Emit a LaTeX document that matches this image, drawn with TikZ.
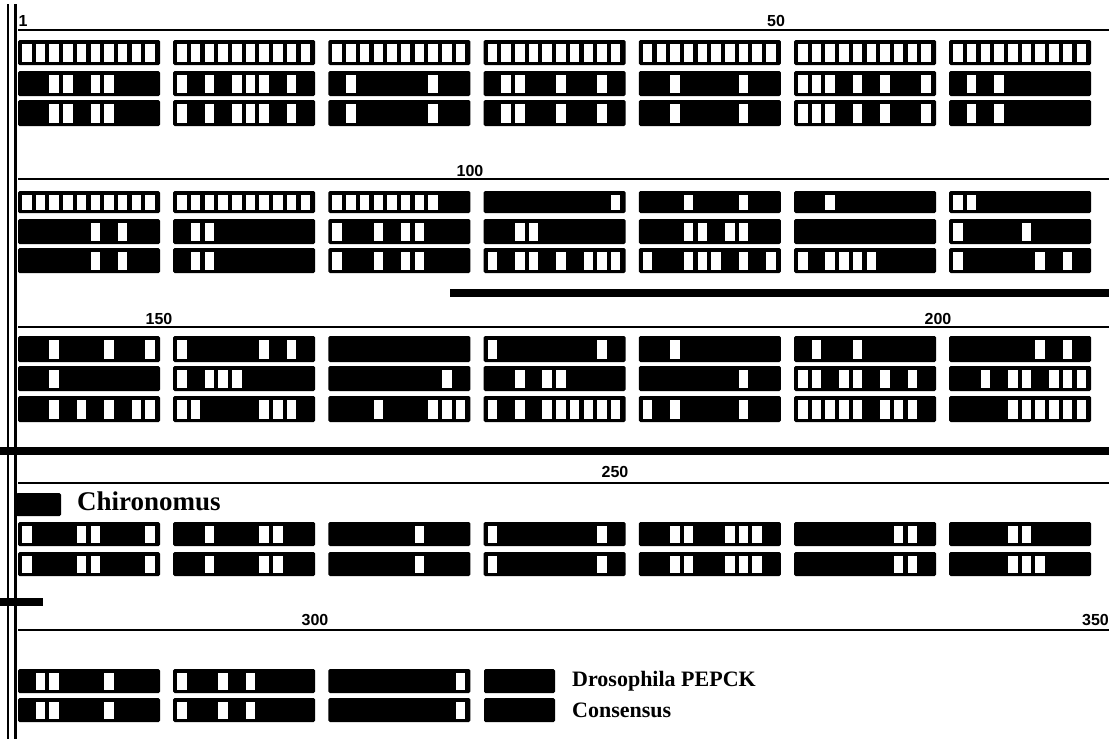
\documentclass[tikz,border=0pt]{standalone}
\usepackage{fontspec}
\setmainfont{Liberation Serif}
\newfontfamily\numfont{Liberation Sans}

% one row of seven blocks; #3 lists the white columns of each block (-1: none)
\newcommand{\alnrow}[3]{%
  \foreach \bars [count=\b from 0] in {#3} {
    \pgfmathsetmacro{\xa}{18+155.2*\b}
    \fill[block] (\xa,#1) rectangle ++(142,#2);
    \foreach \k in \bars {
      \ifnum\k>-1
        \fill[white] ({\xa+4+13.7*\k},{#1+3.5}) rectangle ++(9.5,#2-7);
      \fi
    }
  }}

\begin{document}
\begin{tikzpicture}[x=1pt, y=-1pt,
    block/.style={fill=black, rounded corners=1.5pt},
    rule/.style={line width=2pt},
    num/.style={font=\numfont\bfseries\fontsize{16}{16}\selectfont, inner sep=0pt},
    species/.style={font=\bfseries\fontsize{22}{22}\selectfont, inner sep=0pt, anchor=west}]
    \useasboundingbox (0,0) rectangle (1109,739);

    \draw[line width=2.5pt] (8,4) -- (8,739);
    \draw[line width=3pt] (15,4) -- (15,739);

    % 1 - 50
    \node[num] (n1) at (23,21) {1};
    \node[num] (n50) at (776,21) {50};
    \draw[rule] (18,30) -- (1109,30);
    \alnrow{40}{25}{{0,1,2,3,4,5,6,7,8,9},{0,1,2,3,4,5,6,7,8,9},{0,1,2,3,4,5,6,7,8,9},{0,1,2,3,4,5,6,7,8,9},{0,1,2,3,4,5,6,7,8,9},{0,1,2,3,4,5,6,7,8,9},{0,1,2,3,4,5,6,7,8,9}}
    \alnrow{71}{25}{{2,3,5,6},{0,2,4,5,6,8},{1,7},{1,2,5,8},{2,7},{0,1,2,4,6,9},{1,3}}
    \alnrow{100}{26}{{2,3,5,6},{0,2,4,5,6,8},{1,7},{1,2,5,8},{2,7},{0,1,2,4,6,9},{1,3}}

    % 51 - 100
    \node[num] (n100) at (470,171) {100};
    \draw[rule] (18,179) -- (1109,179);
    \alnrow{191}{22}{{0,1,2,3,4,5,6,7,8,9},{0,1,2,3,4,5,6,7,8,9},{0,1,2,3,4,5,6,7},{9},{3,7},{2},{0,1}}
    \alnrow{219}{25}{{5,7},{1,2},{0,3,5,6},{2,3},{3,4,6,7},{-1},{0,5}}
    \alnrow{248}{25}{{5,7},{1,2},{0,3,5,6},{0,2,3,5,7,8,9},{0,3,4,5,7,9},{0,2,3,4,5},{0,6,8}}
    \fill (450,289) rectangle (1109,297);

    % 101 - 200
    \node[num] (n150) at (159,319) {150};
    \node[num] (n200) at (938,319) {200};
    \draw[rule] (18,327) -- (1109,327);
    \alnrow{336}{26}{{2,6,9},{0,6,8},{-1},{0,8},{2},{1,4},{6,8}}
    \alnrow{366}{25}{{2},{0,2,3,4},{8},{2,4,5},{7},{0,1,3,4,6,8},{2,4,5,7,8,9}}
    \alnrow{396}{26}{{2,4,6,8,9},{0,1,6,7,8},{3,7,8,9},{0,2,4,5,6,7,8,9},{0,2,7},{0,1,2,3,4,6,7,8},{4,5,6,7,8,9}}
    \fill (0,447) rectangle (1109,455);

    % 201 - 250
    \node[num] (n250) at (615,472) {250};
    \draw[rule] (18,483) -- (1109,483);
    \fill[block] (16,493) rectangle (61,516);
    \node[species, font=\bfseries\fontsize{27}{27}\selectfont] (chir) at (77,501) {Chironomus};
    \alnrow{522}{24}{{0,4,5,9},{2,6,7},{6},{0,8},{2,3,6,7,8},{7,8},{4,5}}
    \alnrow{552}{24}{{0,4,5,9},{2,6,7},{6},{0,8},{2,3,6,7,8},{7,8},{4,5,6}}
    \fill (0,598) rectangle (43,606);

    % 251 - 350
    \node[num] (n300) at (315,620) {300};
    \node[num, anchor=east] (n350) at (1109,620) {350};
    \draw[rule] (18,630) -- (1109,630);
    \alnrow{669}{24}{{1,2,6},{0,3,5},{9}}
    \alnrow{698}{24}{{1,2,6},{0,3,5},{9}}
    \fill[block] (484,669) rectangle (555,693);
    \fill[block] (484,698) rectangle (555,722);
    \node[species] (dros) at (572,681) {Drosophila PEPCK};
    \node[species] (cons) at (572,710) {Consensus};
\end{tikzpicture}
\end{document}
